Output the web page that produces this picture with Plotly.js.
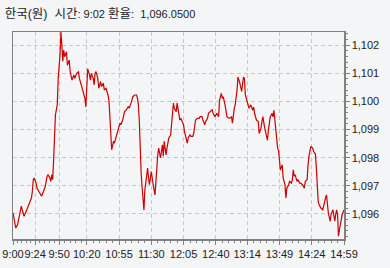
<!DOCTYPE html>
<html>
<head>
<meta charset="utf-8">
<script src="https://cdn.plot.ly/plotly-3.0.1.min.js"></script>
<style>
  html, body { margin: 0; padding: 0; background: #f4f5f7; }
  #chart { width: 390px; height: 268px; }
</style>
</head>
<body>
<div id="chart"></div>
<script>
// minutes after 9:00
const minutes = [0,1,3,5,7,9,10,12,15,17,18,20,21,22,23,25,26,28,29,31,33,35,37,38,40,41,42,43,44,45,46,48,49,51,52,53,54,55,56,58,59,61,62,64,66,67,69,71,72,74,76,78,79,80,81,83,84,85,87,88,89,90,92,93,95,96,98,99,101,103,104,105,106,107,109,110,112,114,116,117,119,121,123,125,126,128,130,132,134,135,136,137,138,139,140,141,142,143,145,146,147,148,150,151,152,154,155,156,157,158,160,162,163,164,166,167,169,171,173,174,175,177,178,180,181,182,185,186,188,189,190,192,193,195,196,198,200,202,203,205,206,208,209,211,212,214,216,217,219,221,223,224,226,227,228,230,232,233,235,237,238,240,241,243,244,246,248,250,251,252,254,256,258,260,261,262,264,266,267,269,270,271,273,274,276,277,279,281,282,283,284,286,287,288,289,290,292,293,295,296,297,299,300,302,303,304,305,306,308,309,311,312,314,316,317,319,320,321,323,325,326,328,329,330,331,332,334,336,337,339,340,341,342,344,345,347,349,350,351,352,353,354,355,357,359];
const rates = [1096.04,1095.80,1095.50,1095.62,1095.98,1096.28,1096.15,1095.92,1096.15,1096.33,1096.45,1096.57,1096.80,1097.22,1097.28,1097.10,1096.92,1096.80,1096.74,1096.63,1096.80,1096.98,1097.34,1097.39,1097.28,1097.16,1097.39,1097.22,1097.87,1098.70,1099.52,1099.88,1100.82,1101.65,1102.47,1102.00,1101.43,1101.83,1101.59,1101.77,1101.29,1101.47,1101.06,1100.76,1100.94,1100.82,1101.00,1101.05,1100.82,1100.59,1100.35,1100.11,1099.81,1100.47,1101.16,1100.94,1100.76,1101.00,1100.82,1100.59,1101.00,1101.06,1100.82,1100.47,1100.71,1100.53,1100.65,1100.41,1100.47,1100.23,1100.05,1099.52,1098.93,1098.28,1098.58,1098.52,1098.76,1099.05,1099.23,1099.17,1099.34,1099.64,1099.70,1099.82,1099.76,1099.94,1100.17,1100.23,1100.23,1100.11,1099.88,1099.30,1098.22,1097.45,1096.96,1096.64,1096.14,1096.85,1097.28,1097.63,1097.28,1097.04,1097.51,1097.16,1097.04,1096.68,1097.16,1097.87,1098.10,1098.34,1097.99,1098.46,1098.05,1098.58,1098.10,1098.34,1098.70,1098.81,1099.52,1099.94,1099.76,1099.64,1099.94,1099.46,1099.34,1099.40,1099.17,1098.93,1098.70,1098.52,1098.70,1098.81,1098.76,1098.76,1098.87,1099.34,1099.40,1099.40,1099.46,1099.46,1099.34,1099.17,1099.29,1099.40,1099.58,1099.64,1099.70,1099.58,1099.46,1099.58,1099.46,1100.05,1100.29,1100.11,1100.17,1099.88,1099.46,1099.43,1099.40,1099.46,1099.23,1099.76,1099.88,1100.41,1100.87,1100.65,1100.36,1100.87,1100.82,1100.23,1099.94,1099.76,1099.88,1099.69,1099.80,1099.58,1099.34,1099.29,1098.86,1099.05,1099.29,1099.46,1099.05,1098.93,1098.62,1098.98,1099.45,1099.58,1099.45,1099.69,1099.30,1098.80,1098.34,1098.27,1097.91,1097.56,1097.75,1097.28,1097.04,1096.57,1096.92,1097.04,1097.16,1097.10,1097.22,1097.57,1097.34,1097.39,1097.16,1097.22,1097.10,1097.10,1097.04,1096.92,1097.16,1097.22,1097.75,1098.05,1098.40,1098.34,1098.22,1098.13,1097.63,1096.92,1096.45,1096.33,1096.21,1096.15,1096.33,1096.57,1096.68,1096.33,1096.04,1095.74,1095.98,1096.15,1095.74,1095.98,1096.15,1095.98,1095.21,1095.43,1095.68,1095.98,1096.14];

const xTickVals = [0,24,50,80,115,150,185,220,254,289,324,359];
const xTickText = ['9:00','9:24','9:50','10:20','10:55','11:30','12:05','12:40','13:14','13:49','14:24','14:59'];
const yTickVals = [1096,1097,1098,1099,1100,1101,1102];
const titleText = '<span style="font-size:12.5px">한국(원)  시간</span>: 9:02 <span style="font-size:12.5px">환율</span>:  1,096.0500';

// minor ticks: 5 subdivisions between major x ticks
const xMinor = [];
for (let i = 0; i < xTickVals.length - 1; i++) {
  const a = xTickVals[i], b = xTickVals[i + 1];
  for (let k = 1; k < 5; k++) xMinor.push(a + (b - a) * k / 5);
}

const trace = {
  x: minutes, y: rates, type: 'scatter', mode: 'lines',
  line: { color: '#cc0000', width: 1.2 },
  hoverinfo: 'skip'
};

const axisFont = { family: 'Liberation Sans, Arial, sans-serif', size: 11, color: '#222' };

const layout = {
  width: 390, height: 268,
  margin: { l: 13, r: 46, t: 32, b: 29, pad: 0 },
  paper_bgcolor: '#f4f5f7',
  plot_bgcolor: '#f4f5f7',
  showlegend: false,
  title: {
    text: titleText,
    font: { family: 'Liberation Sans, Noto Sans CJK KR, sans-serif', size: 11, color: '#222' },
    x: 0.012, xanchor: 'left', xref: 'container',
    y: 0.948, yanchor: 'middle', yref: 'container'
  },
  xaxis: {
    range: [0, 359],
    tickmode: 'array', tickvals: xTickVals, ticktext: xTickText,
    tickangle: 0, autotickangles: [0],
    ticks: 'outside', ticklen: 4, tickwidth: 1, tickcolor: '#808080',
    tickfont: axisFont,
    showline: true, linecolor: '#808080', linewidth: 1.5, mirror: true,
    showgrid: true, gridcolor: '#c8c8c8', gridwidth: 1, griddash: '4px,3px',
    zeroline: false, fixedrange: true,
    minor: { tickmode: 'array', tickvals: xMinor, ticks: 'outside', ticklen: 2, tickcolor: '#808080', showgrid: false }
  },
  yaxis: {
    side: 'right',
    range: [1095.11, 1102.47],
    tickmode: 'array', tickvals: yTickVals, tickformat: ',d',
    ticks: 'outside', ticklen: 4, tickwidth: 1, tickcolor: '#808080',
    tickfont: axisFont,
    showline: true, linecolor: '#808080', linewidth: 1.5, mirror: true,
    showgrid: true, gridcolor: '#c8c8c8', gridwidth: 1, griddash: '4px,3px',
    zeroline: false, fixedrange: true,
    minor: { dtick: 0.2, ticks: 'outside', ticklen: 2, tickcolor: '#808080', showgrid: false }
  }
};

Plotly.newPlot('chart', [trace], layout, { staticPlot: true, displayModeBar: false });
</script>
</body>
</html>
